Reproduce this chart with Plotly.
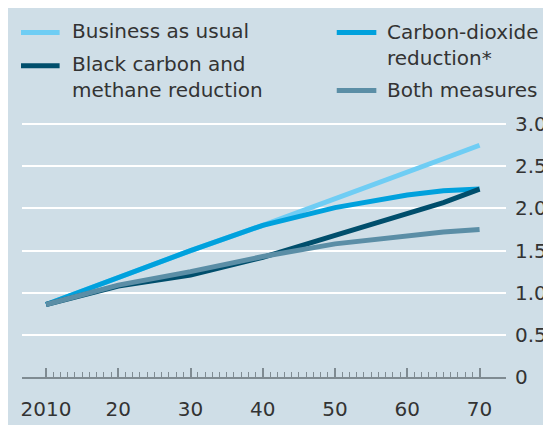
import plotly.graph_objects as go

# ---- data ----
years = [2010, 2020, 2030, 2040, 2050, 2060, 2065, 2070]
business_as_usual = [0.86, 1.18, 1.50, 1.80, 2.11, 2.43, 2.59, 2.75]
co2_reduction = [0.86, 1.18, 1.50, 1.80, 2.01, 2.16, 2.21, 2.23]
bc_methane_reduction = [0.86, 1.08, 1.21, 1.42, 1.68, 1.93, 2.07, 2.23]
both_measures = [0.86, 1.09, 1.25, 1.43, 1.58, 1.68, 1.72, 1.75]

series_names = ["Business as usual", "Carbon-dioxide<br>reduction*",
                "Black carbon and<br>methane reduction", "Both measures"]
series_values = [business_as_usual, co2_reduction, bc_methane_reduction, both_measures]
series_colors = ["#6fcdf4", "#00a1dd", "#004e6c", "#5b8ea6"]

x_tick_vals = [2010, 2020, 2030, 2040, 2050, 2060, 2070]
x_tick_text = ["2010", "20", "30", "40", "50", "60", "70"]
x_minor_vals = [y for y in range(2010, 2071) if y % 10 != 0]
y_tick_vals = [0, 0.5, 1.0, 1.5, 2.0, 2.5, 3.0]
y_tick_text = ["0", "0.5", "1.0", "1.5", "2.0", "2.5", "3.0"]

# ---- layout constants (pixels) ----
W, H = 551, 425
ML, MR, MT, MB = 14, 48, 112, 43
BG = "#cfdee7"
FONT = "DejaVu Sans, sans-serif"
TEXT = "#333333"

fig = go.Figure()
for name, vals, col in zip(series_names, series_values, series_colors):
    fig.add_trace(go.Scatter(x=years, y=vals, mode="lines", name=name,
                             line=dict(color=col, width=5), showlegend=False))

def px2paper_x(px):
    return (px - ML) / (W - ML - MR)

def px2paper_y(py):
    return (H - MB - py) / (H - MT - MB)

# manual legend: (swatch x0, x1, swatch y, text x, text y)
legend_pos = [
    (13, 52, 20, 62, 19),
    (332, 372, 20, 381, 33),
    (13, 52, 55, 62, 67),
    (332, 372, 81, 381, 80),
]
for (sx0, sx1, sy, tx, ty), name, col in zip(legend_pos, series_names, series_colors):
    fig.add_shape(type="line", xref="paper", yref="paper",
                  x0=px2paper_x(sx0), x1=px2paper_x(sx1),
                  y0=px2paper_y(sy), y1=px2paper_y(sy),
                  line=dict(color=col, width=5))
    fig.add_annotation(xref="paper", yref="paper", x=px2paper_x(tx), y=px2paper_y(ty),
                       text=name, showarrow=False, xanchor="left", yanchor="middle",
                       align="left", font=dict(family=FONT, size=20, color=TEXT))

fig.update_layout(
    width=W, height=H,
    margin=dict(l=ML, r=MR, t=MT, b=MB, pad=0),
    paper_bgcolor=BG, plot_bgcolor=BG,
    font=dict(family=FONT, size=20, color=TEXT),
    xaxis=dict(range=[2006.67, 2073.66], showgrid=False, zeroline=False,
               tickmode="array", tickvals=x_tick_vals, ticktext=x_tick_text,
               ticks="inside", ticklen=9, tickwidth=1.5, tickcolor="#7f8b92",
               showline=True, linecolor="#7f8b92", linewidth=2,
               ticklabelstandoff=13,
               minor=dict(tickmode="array", tickvals=x_minor_vals, ticks="inside",
                          ticklen=5, tickwidth=1, tickcolor="#7f8b92", showgrid=False),
               tickfont=dict(family=FONT, size=20, color=TEXT), fixedrange=True),
    yaxis=dict(range=[0, 3.05], side="right", showgrid=True, gridcolor="#ffffff",
               gridwidth=2, zeroline=False, tickmode="array", tickvals=y_tick_vals,
               ticktext=y_tick_text, ticks="", showline=False,
               ticklabelstandoff=8,
               tickfont=dict(family=FONT, size=20, color=TEXT), fixedrange=True),
)

fig.write_html("out.html")
